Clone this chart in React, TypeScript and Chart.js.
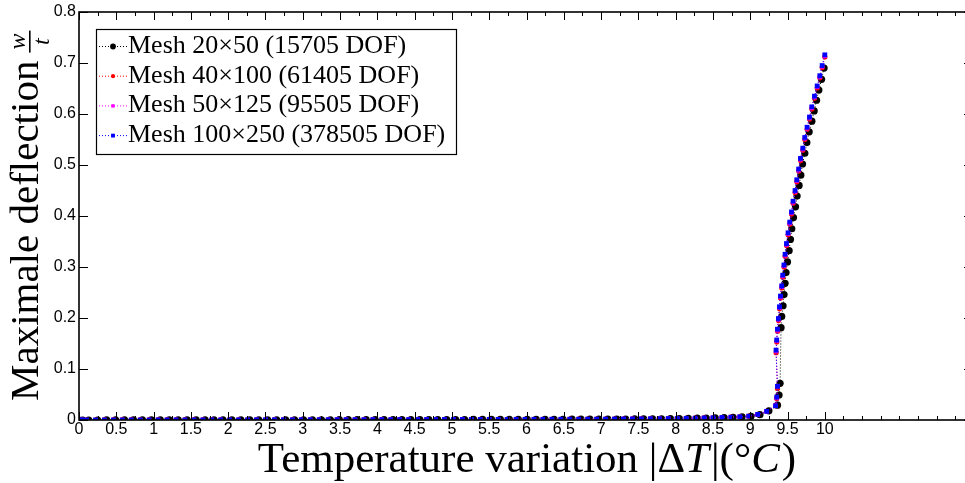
import React, { useEffect, useRef } from 'react';
import { Chart, registerables } from 'chart.js';

Chart.register(...registerables);

// ---------- tick labels ----------
const X_TICKS = [0, 0.5, 1, 1.5, 2, 2.5, 3, 3.5, 4, 4.5, 5, 5.5, 6, 6.5, 7, 7.5, 8, 8.5, 9, 9.5, 10];
const Y_TICKS = [0, 0.1, 0.2, 0.3, 0.4, 0.5, 0.6, 0.7, 0.8];

// ---------- series ----------
const SERIES_LABELS = [
  'Mesh 20×50 (15705 DOF)',
  'Mesh 40×100 (61405 DOF)',
  'Mesh 50×125 (95505 DOF)',
  'Mesh 100×250 (378505 DOF)',
];
const SERIES_COLORS = ['#000000', '#ff0000', '#ff00ff', '#0000ff'];

// pre-buckling branch, fine meshes (40x100, 50x125, 100x250)
const T_FINE_PRE = [0, 0.02, 0.05, 0.10, 0.22, 0.34, 0.46, 0.58, 0.70, 0.82, 0.94, 1.06, 1.18, 1.30, 1.42, 1.54, 1.66, 1.78, 1.90, 2.02, 2.14, 2.26, 2.38, 2.50, 2.62, 2.74, 2.86, 2.98, 3.10, 3.22, 3.34, 3.46, 3.58, 3.70, 3.82, 3.94, 4.06, 4.18, 4.30, 4.42, 4.54, 4.66, 4.78, 4.90, 5.02, 5.14, 5.26, 5.38, 5.50, 5.62, 5.74, 5.86, 5.98, 6.10, 6.22, 6.34, 6.46, 6.58, 6.70, 6.82, 6.94, 7.06, 7.18, 7.30, 7.42, 7.54, 7.66, 7.78, 7.90, 8.02, 8.14, 8.26, 8.38, 8.50, 8.62, 8.74, 8.86, 8.98, 9.10, 9.22, 9.34];
const W_FINE_PRE = [0, 0, 0,
  0.0000, 0.0000, 0.0001, 0.0001, 0.0001, 0.0001, 0.0001, 0.0001, 0.0002, 0.0002,
  0.0002, 0.0002, 0.0002, 0.0002, 0.0003, 0.0003, 0.0003, 0.0003, 0.0003, 0.0004,
  0.0004, 0.0004, 0.0004, 0.0004, 0.0005, 0.0005, 0.0005, 0.0005, 0.0006, 0.0006,
  0.0006, 0.0006, 0.0007, 0.0007, 0.0007, 0.0008, 0.0008, 0.0008, 0.0009, 0.0009,
  0.0010, 0.0010, 0.0010, 0.0011, 0.0011, 0.0011, 0.0012, 0.0012, 0.0013, 0.0013,
  0.0014, 0.0014, 0.0015, 0.0015, 0.0016, 0.0016, 0.0017, 0.0017, 0.0018, 0.0019,
  0.0020, 0.0021, 0.0022, 0.0024, 0.0026, 0.0028, 0.0030, 0.0033, 0.0036, 0.0040,
  0.0044, 0.0049, 0.0055, 0.0063, 0.0075, 0.0110, 0.0170, 0.0280];

// pre-buckling branch, coarse mesh (20x50)
const T_COARSE_PRE = [0, 0.05, 0.13, 0.25, 0.37, 0.49, 0.61, 0.73, 0.85, 0.97, 1.09, 1.21, 1.33, 1.45, 1.57, 1.69, 1.81, 1.93, 2.05, 2.17, 2.29, 2.41, 2.53, 2.65, 2.77, 2.89, 3.01, 3.13, 3.25, 3.37, 3.49, 3.61, 3.73, 3.85, 3.97, 4.09, 4.21, 4.33, 4.45, 4.57, 4.69, 4.81, 4.93, 5.05, 5.17, 5.29, 5.41, 5.53, 5.65, 5.77, 5.89, 6.01, 6.13, 6.25, 6.37, 6.49, 6.61, 6.73, 6.85, 6.97, 7.09, 7.21, 7.33, 7.45, 7.57, 7.69, 7.81, 7.93, 8.05, 8.17, 8.29, 8.41, 8.53, 8.65, 8.77, 8.89, 9.01, 9.13, 9.25];
const W_COARSE_PRE = [0, 0,
  0.0000, 0.0000, 0.0001, 0.0001, 0.0001, 0.0001, 0.0001, 0.0001, 0.0002, 0.0002,
  0.0002, 0.0002, 0.0002, 0.0002, 0.0003, 0.0003, 0.0003, 0.0003, 0.0003, 0.0004,
  0.0004, 0.0004, 0.0004, 0.0004, 0.0005, 0.0005, 0.0005, 0.0005, 0.0006, 0.0006,
  0.0006, 0.0006, 0.0007, 0.0007, 0.0007, 0.0008, 0.0008, 0.0008, 0.0009, 0.0009,
  0.0010, 0.0010, 0.0010, 0.0011, 0.0011, 0.0011, 0.0012, 0.0012, 0.0013, 0.0013,
  0.0014, 0.0014, 0.0015, 0.0015, 0.0016, 0.0016, 0.0017, 0.0017, 0.0018, 0.0019,
  0.0020, 0.0021, 0.0022, 0.0023, 0.0025, 0.0027, 0.0029, 0.0032, 0.0035, 0.0039,
  0.0043, 0.0048, 0.0054, 0.0062, 0.0074, 0.0105, 0.0180];

// post-buckling branches
const T_POST_20x50 = [9.365, 9.386, 9.400, 9.413, 9.422, 9.440, 9.453, 9.467, 9.480, 9.499, 9.521, 9.539, 9.557, 9.580, 9.607, 9.628, 9.655, 9.678, 9.701, 9.732, 9.759, 9.790, 9.826, 9.857, 9.889, 9.920, 9.956, 9.990];
const W_POST_20x50 = [0.029, 0.049, 0.072, 0.181, 0.203, 0.224, 0.246, 0.268, 0.289, 0.310, 0.332, 0.354, 0.375, 0.397, 0.418, 0.439, 0.460, 0.480, 0.502, 0.523, 0.544, 0.565, 0.586, 0.606, 0.627, 0.647, 0.668, 0.690];

const T_POST_40x100 = [9.355, 9.365, 9.347, 9.356, 9.366, 9.379, 9.393, 9.406, 9.423, 9.437, 9.453, 9.468, 9.487, 9.508, 9.531, 9.554, 9.575, 9.602, 9.625, 9.650, 9.675, 9.706, 9.732, 9.763, 9.795, 9.826, 9.862, 9.898, 9.934, 9.965, 10.0];
const W_POST_40x100 = [0.042, 0.062, 0.132, 0.153, 0.174, 0.195, 0.218, 0.239, 0.259, 0.280, 0.300, 0.321, 0.342, 0.363, 0.384, 0.404, 0.425, 0.446, 0.467, 0.488, 0.509, 0.529, 0.550, 0.570, 0.590, 0.610, 0.631, 0.651, 0.671, 0.691, 0.712];

const T_POST_50x125 = [9.355, 9.365, 9.346, 9.355, 9.365, 9.378, 9.392, 9.405, 9.422, 9.436, 9.452, 9.467, 9.486, 9.507, 9.530, 9.553, 9.574, 9.601, 9.624, 9.649, 9.674, 9.705, 9.731, 9.762, 9.794, 9.825, 9.861, 9.897, 9.933, 9.964, 10.0];
const W_POST_50x125 = [0.043, 0.066, 0.135, 0.155, 0.176, 0.197, 0.220, 0.241, 0.261, 0.282, 0.302, 0.323, 0.344, 0.365, 0.386, 0.406, 0.427, 0.448, 0.469, 0.490, 0.511, 0.531, 0.552, 0.572, 0.592, 0.612, 0.633, 0.653, 0.673, 0.693, 0.714];

const T_POST_100x250 = [9.355, 9.365, 9.346, 9.355, 9.365, 9.378, 9.392, 9.405, 9.422, 9.436, 9.452, 9.467, 9.486, 9.507, 9.530, 9.553, 9.574, 9.601, 9.624, 9.649, 9.674, 9.705, 9.731, 9.762, 9.794, 9.825, 9.861, 9.897, 9.933, 9.964, 10.0];
const W_POST_100x250 = [0.045, 0.066, 0.137, 0.157, 0.178, 0.199, 0.222, 0.243, 0.263, 0.284, 0.304, 0.325, 0.346, 0.367, 0.388, 0.408, 0.429, 0.450, 0.471, 0.492, 0.513, 0.533, 0.554, 0.574, 0.594, 0.614, 0.635, 0.655, 0.675, 0.695, 0.716];

const X_MIN = 0;
const X_MAX = 12;
const Y_MIN = 0;
const Y_MAX = 0.8;

// ---------- layout / style ----------
const CANVAS_W = 980;
const CANVAS_H = 483;
const AREA_LEFT = 79;
const AREA_TOP = 12;
const AREA_BOTTOM = 420;
const AREA_RIGHT = 974;
const SERIF = '"Liberation Serif", "Times New Roman", serif';
const SANS = '"Liberation Sans", Arial, sans-serif';

const MARKERS = [
  { style: 'circle', radius: 3.6 },
  { style: 'circle', radius: 2.6 },
  { style: 'rect', radius: 3.0 },
  { style: 'rect', radius: 3.4 },
];

function toPoints(xs: number[], ys: number[]) {
  return xs.map((x, i) => ({ x, y: ys[i] }));
}

function drawMarker(ctx: CanvasRenderingContext2D, style: string, r: number, x: number, y: number, color: string) {
  ctx.fillStyle = color;
  ctx.beginPath();
  if (style === 'circle') {
    ctx.arc(x, y, r, 0, Math.PI * 2);
  } else {
    const s = r * Math.SQRT1_2;
    ctx.rect(x - s, y - s, 2 * s, 2 * s);
  }
  ctx.fill();
}

const framePlugin = {
  id: 'matlabFrame',
  afterDatasetsDraw(chart: any) {
    const { ctx, chartArea: a, scales } = chart;
    const xs = scales.x;
    const ys = scales.y;
    ctx.save();
    ctx.strokeStyle = '#000';
    ctx.lineWidth = 1;
    ctx.beginPath();
    const nMinor = Math.round((xs.max - xs.min) / 0.25);
    for (let i = 0; i <= nMinor; i++) {
      const v = xs.min + i * 0.25;
      const major = X_TICKS.some((t) => Math.abs(t - v) < 1e-6);
      const len = major ? 8 : 4;
      const px = Math.round(xs.getPixelForValue(v)) + 0.5;
      ctx.moveTo(px, a.bottom);
      ctx.lineTo(px, a.bottom - len);
      ctx.moveTo(px, a.top);
      ctx.lineTo(px, a.top + len);
    }
    Y_TICKS.forEach((v) => {
      const py = Math.round(ys.getPixelForValue(v)) + 0.5;
      ctx.moveTo(a.left, py);
      ctx.lineTo(a.left + 9, py);
      ctx.moveTo(a.right, py);
      ctx.lineTo(a.right - 10, py);
    });
    ctx.stroke();
    ctx.lineWidth = 1.6;
    ctx.strokeRect(a.left, a.top, a.right - a.left, a.bottom - a.top);
    ctx.restore();
  },
};

const legendPlugin = {
  id: 'boxLegend',
  afterDraw(chart: any) {
    const ctx: CanvasRenderingContext2D = chart.ctx;
    const bx = 96, by = 29, bw = 360, bh = 125;
    ctx.save();
    ctx.fillStyle = '#fff';
    ctx.fillRect(bx, by, bw, bh);
    ctx.strokeStyle = '#000';
    ctx.lineWidth = 1.2;
    ctx.strokeRect(bx + 0.5, by + 0.5, bw, bh);
    chart.data.datasets.forEach((ds: any, i: number) => {
      const base = 53 + i * 29.7;
      const cy = base - 6.5;
      ctx.strokeStyle = ds.borderColor;
      ctx.lineWidth = 1;
      ctx.setLineDash([1, 2]);
      ctx.beginPath();
      ctx.moveTo(99, cy);
      ctx.lineTo(127, cy);
      ctx.stroke();
      ctx.setLineDash([]);
      const m = MARKERS[i];
      drawMarker(ctx, m.style, m.radius * 0.8, 113, cy, ds.backgroundColor);
      ctx.fillStyle = '#000';
      ctx.font = `26px ${SERIF}`;
      ctx.textBaseline = 'alphabetic';
      ctx.textAlign = 'left';
      ctx.fillText(ds.label, 128, base);
    });
    ctx.restore();
  },
};

const titlePlugin = {
  id: 'latexTitles',
  afterDraw(chart: any) {
    const ctx: CanvasRenderingContext2D = chart.ctx;
    ctx.save();
    ctx.fillStyle = '#000';
    ctx.textBaseline = 'alphabetic';
    ctx.textAlign = 'left';
    // x title
    const segs = [
      { t: 'Temperature variation |Δ', it: false },
      { t: 'T', it: true },
      { t: '|(°', it: false },
      { t: 'C', it: true },
      { t: ')', it: false },
    ];
    const size = 43;
    let total = 0;
    const widths = segs.map((s) => {
      ctx.font = `${s.it ? 'italic ' : ''}${size}px ${SERIF}`;
      const w = ctx.measureText(s.t).width + (s.it ? 2 : 0);
      total += w;
      return w;
    });
    let x = 527 - total / 2;
    segs.forEach((s, i) => {
      ctx.font = `${s.it ? 'italic ' : ''}${size}px ${SERIF}`;
      ctx.fillText(s.t, x, 472);
      x += widths[i];
    });

    // y title (rotated)
    ctx.translate(38, 401);
    ctx.rotate(-Math.PI / 2);
    ctx.font = `41px ${SERIF}`;
    const main = 'Maximale deflection';
    ctx.fillText(main, 0, 0);
    const mw = ctx.measureText(main).width;
    const fx = mw + 8;
    ctx.font = `italic 24px ${SERIF}`;
    const ww = ctx.measureText('w').width;
    const tw = ctx.measureText('t').width;
    const barLen = Math.max(ww, tw) + 6;
    ctx.fillRect(fx, -9, barLen, 1.6);
    ctx.fillText('w', fx + (barLen - ww) / 2, -13);
    ctx.fillText('t', fx + (barLen - tw) / 2, 11);
    ctx.restore();
  },
};

export default function App() {
  const canvasRef = useRef<HTMLCanvasElement | null>(null);

  useEffect(() => {
    const canvas = canvasRef.current;
    if (!canvas) return;
    const seriesData = [
      toPoints(T_COARSE_PRE.concat(T_POST_20x50), W_COARSE_PRE.concat(W_POST_20x50)),
      toPoints(T_FINE_PRE.concat(T_POST_40x100), W_FINE_PRE.concat(W_POST_40x100)),
      toPoints(T_FINE_PRE.concat(T_POST_50x125), W_FINE_PRE.concat(W_POST_50x125)),
      toPoints(T_FINE_PRE.concat(T_POST_100x250), W_FINE_PRE.concat(W_POST_100x250)),
    ];
    const datasets = seriesData.map((data, i) => ({
      label: SERIES_LABELS[i],
      data,
      showLine: true,
      borderColor: SERIES_COLORS[i],
      backgroundColor: SERIES_COLORS[i],
      borderWidth: 1,
      borderDash: [1, 2],
      pointStyle: MARKERS[i].style,
      pointRadius: MARKERS[i].radius,
      pointBorderWidth: 0,
      pointBackgroundColor: SERIES_COLORS[i],
      pointBorderColor: SERIES_COLORS[i],
      order: 4 - i,
      tension: 0,
    }));

    const tickFont = { family: SANS, size: 16 };
    const chart = new Chart(canvas, {
      type: 'scatter',
      data: { datasets } as any,
      options: {
        responsive: false,
        animation: false,
        devicePixelRatio: 1,
        layout: { padding: { left: 0, top: AREA_TOP, right: CANVAS_W - AREA_RIGHT, bottom: 0 } },
        plugins: {
          legend: { display: false },
          tooltip: { enabled: false },
          title: { display: false },
        },
        scales: {
          x: {
            type: 'linear',
            min: X_MIN,
            max: X_MAX,
            afterBuildTicks: (s: any) => {
              s.ticks = X_TICKS.map((v) => ({ value: v }));
            },
            afterFit: (s: any) => {
              s.height = CANVAS_H - AREA_BOTTOM;
              s.paddingLeft = 0;
              s.paddingRight = 0;
            },
            ticks: {
              autoSkip: false,
              maxRotation: 0,
              minRotation: 0,
              padding: 0,
              color: '#000',
              font: tickFont,
              callback: (v: any) => String(v),
            },
            grid: { display: false, drawTicks: false },
            border: { display: false },
          },
          y: {
            type: 'linear',
            min: Y_MIN,
            max: Y_MAX,
            afterBuildTicks: (s: any) => {
              s.ticks = Y_TICKS.map((v) => ({ value: v }));
            },
            afterFit: (s: any) => {
              s.width = AREA_LEFT;
              s.paddingTop = 0;
              s.paddingBottom = 0;
            },
            ticks: {
              autoSkip: false,
              padding: 3,
              color: '#000',
              font: tickFont,
              callback: (v: any) => String(v),
            },
            grid: { display: false, drawTicks: false },
            border: { display: false },
          },
        },
      } as any,
      plugins: [framePlugin, legendPlugin, titlePlugin],
    });
    return () => chart.destroy();
  }, []);

  return (
    <div
      style={{
        position: 'absolute',
        left: 0,
        top: 0,
        width: 965,
        height: 483,
        overflow: 'hidden',
        background: '#fff',
      }}
    >
      <canvas
        ref={canvasRef}
        width={CANVAS_W}
        height={CANVAS_H}
        style={{ display: 'block', width: CANVAS_W, height: CANVAS_H }}
      />
    </div>
  );
}
